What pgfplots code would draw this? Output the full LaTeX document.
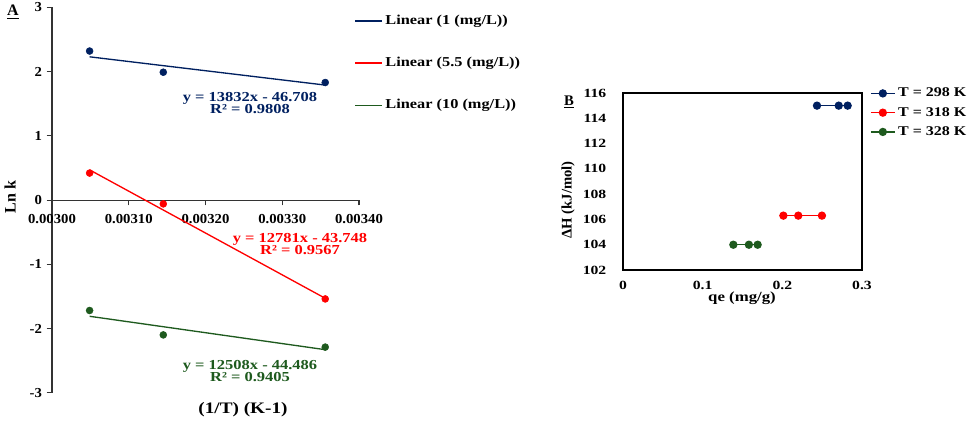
\documentclass[border=0pt]{standalone}
\usepackage{fontspec}
\setmainfont{Liberation Serif}[FakeStretch=1.2]
\newfontfamily\fN{Liberation Serif}
\newfontfamily\fA{Liberation Serif}[FakeStretch=1.07]
\newfontfamily\fB{Liberation Serif}[FakeStretch=1.25]
\usepackage{pgfplots}
\pgfplotsset{compat=1.18}
\definecolor{cblue}{RGB}{0,32,96}
\definecolor{cred}{RGB}{255,0,0}
\definecolor{cgreen}{RGB}{30,90,30}
\begin{document}
\begin{tikzpicture}[x=0.75pt,y=0.75pt]
\path[use as bounding box] (0,0) rectangle (969,421);
% ---------------- Panel A ----------------
\begin{axis}[
  at={(39pt,21.225pt)}, anchor=south west,
  scale only axis, width=230.25pt, height=289pt,
  xmin=0.003, xmax=0.0034, ymin=-3, ymax=3,
  axis x line=middle, axis y line=left,
  axis line style={-, black!80, line width=0.8pt},
  scaled x ticks=false,
  xtick={0.003,0.0031,0.0032,0.0033,0.0034},
  xticklabels={0.00300,0.00310,0.00320,0.00330,0.00340},
  ytick={-3,-2,-1,0,1,2,3},
  yticklabels={-3,-2,-1,0,1,2,3},
  hide obscured x ticks=false, hide obscured y ticks=false,
  tick align=outside, major tick length=4pt,
  tick style={black!80, line width=0.8pt},
  ticklabel style={font=\fA\bfseries\fontsize{10.3}{12}\selectfont},
  xticklabel style={yshift=-3pt},
  legend style={draw=none, fill=none, at={(axis description cs:0.985,0.987)}, anchor=north west,
    font=\bfseries\fontsize{10.2}{12}\selectfont, row sep=19pt, inner sep=0pt,
    legend cell align=left},
  legend image code/.code={\draw[#1, line width=1.1pt] (0pt,0pt) -- (20pt,0pt);},
  clip=false,
]
\addplot[only marks, mark=*, mark size=2.6pt, color=cblue, forget plot] coordinates {(0.003049,2.32) (0.003145,1.99) (0.003356,1.83)};
\addplot[only marks, mark=*, mark size=2.6pt, color=cred, forget plot] coordinates {(0.003049,0.42) (0.003145,-0.06) (0.003356,-1.54)};
\addplot[only marks, mark=*, mark size=2.6pt, color=cgreen, forget plot] coordinates {(0.003049,-1.72) (0.003145,-2.10) (0.003356,-2.29)};
\addplot[cblue, line width=1pt, no marks] coordinates {(0.003049,2.23) (0.003356,1.79)};
\addlegendentry{Linear (1 (mg/L))}
\addplot[cred, line width=1pt, no marks] coordinates {(0.003049,0.47) (0.003356,-1.53)};
\addlegendentry{Linear (5.5 (mg/L))}
\addplot[cgreen, line width=1pt, no marks] coordinates {(0.003049,-1.81) (0.003356,-2.33)};
\addlegendentry{Linear (10 (mg/L))}
\end{axis}
\node[font=\bfseries\fontsize{10.3}{12}\selectfont, text=cblue, align=center] at (250,318) {y = 13832x - 46.708\\[-2.5pt] R² = 0.9808};
\node[font=\bfseries\fontsize{10.3}{12}\selectfont, text=cred, align=center] at (300,177) {y = 12781x - 43.748\\[-2.5pt] R² = 0.9567};
\node[font=\bfseries\fontsize{10.3}{12}\selectfont, text=cgreen, align=center] at (250,50) {y = 12508x - 44.486\\[-2.5pt] R² = 0.9405};
\node[font=\bfseries\fontsize{12}{14}\selectfont] at (243,11) {(1/T) (K-1)};
\node[font=\fN\bfseries\fontsize{12}{14}\selectfont, rotate=90] at (10,224) {Ln k};
\node[font=\fN\bfseries\fontsize{12}{14}\selectfont] at (13,409) {\underline{A}};
% ---------------- Panel B ----------------
\begin{axis}[
  at={(467.25pt,113.25pt)}, anchor=south west,
  scale only axis, width=179.25pt, height=132.75pt,
  xmin=0, xmax=0.3, ymin=102, ymax=116,
  axis line style={black, line width=1.2pt},
  xtick={0,0.1,0.2,0.3}, xticklabels={0,0.1,0.2,0.3},
  ytick={102,104,106,108,110,112,114,116},
  yticklabels={102,104,106,108,110,112,114,116},
  major tick length=0pt,
  ticklabel style={font=\fB\bfseries\fontsize{9.4}{11}\selectfont},
  xticklabel style={yshift=-5pt},
  yticklabel style={xshift=-9pt},
  legend style={draw=none, fill=none, at={(axis description cs:1.033,1.045)}, anchor=north west,
    font=\bfseries\fontsize{10}{12}\selectfont, row sep=2.3pt, inner sep=0pt,
    legend cell align=left},
  legend image code/.code={\draw[#1, line width=1pt] (0pt,0pt) -- (18pt,0pt); \draw[#1] plot coordinates {(9pt,0pt)};},
  clip=false,
]
\addplot[cblue, line width=1pt, mark=*, mark size=2.6pt] coordinates {(0.2435,115) (0.2708,115) (0.282,115)};
\addlegendentry{T = 298 K}
\addplot[cred, line width=1pt, mark=*, mark size=2.6pt] coordinates {(0.2013,106.3) (0.220,106.3) (0.2497,106.3)};
\addlegendentry{T = 318 K}
\addplot[cgreen, line width=1pt, mark=*, mark size=2.6pt] coordinates {(0.1385,104.0) (0.158,104.0) (0.169,104.0)};
\addlegendentry{T = 328 K}
\end{axis}
\node[font=\bfseries\fontsize{10.5}{13}\selectfont] at (742,123) {qe (mg/g)};
\node[font=\fN\bfseries\fontsize{11}{13}\selectfont, rotate=90] at (568,221) {ΔH (kJ/mol)};
\node[font=\fN\bfseries\fontsize{11}{13}\selectfont] at (569,319) {\underline{B}};
\end{tikzpicture}
\end{document}
